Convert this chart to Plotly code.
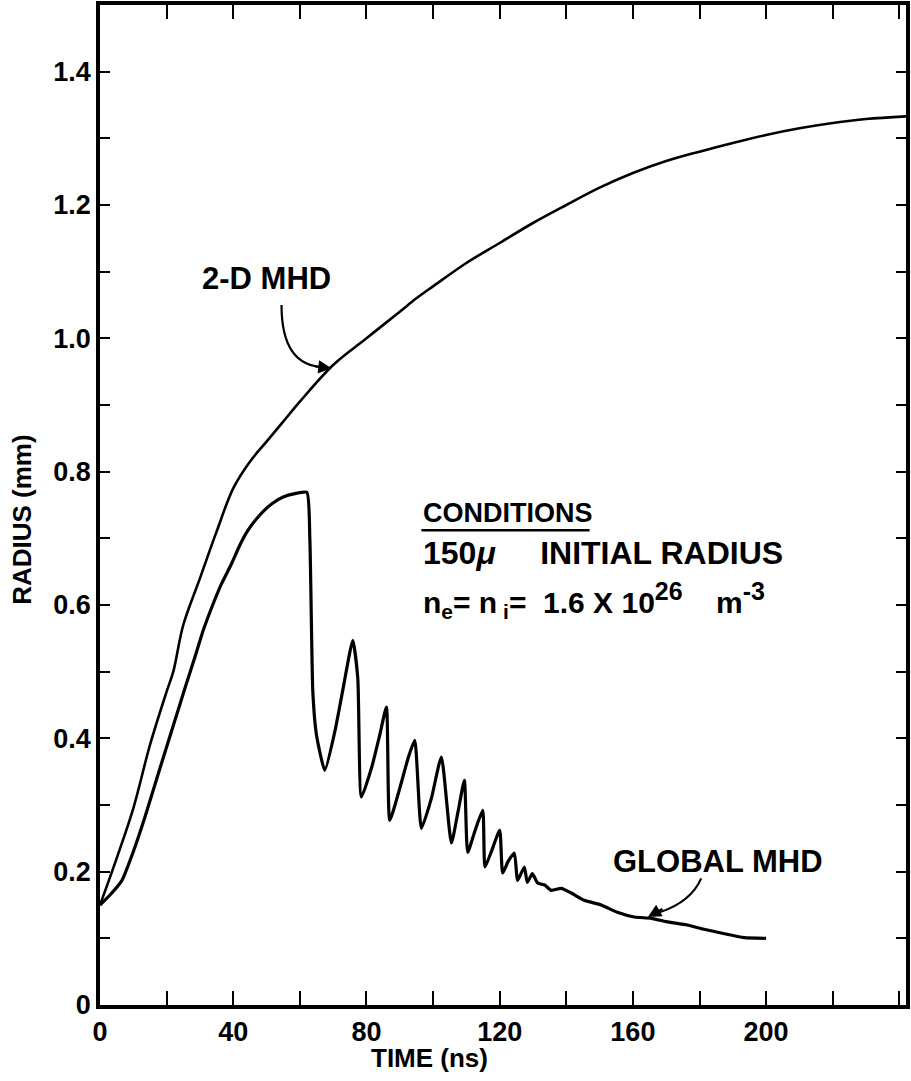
import plotly.graph_objects as go

# 2-D MHD curve
t_2d = [0, 5, 10, 15, 20, 22, 25, 30, 35, 40, 45, 50, 55, 60, 70, 80, 90, 95, 100, 110,
        120, 130, 140, 150, 160, 170, 180, 190, 200, 210, 220, 230, 242]
r_2d = [0.15, 0.22, 0.295, 0.39, 0.47, 0.50, 0.57, 0.64, 0.71, 0.775, 0.815, 0.845,
        0.875, 0.905, 0.96, 1.0, 1.04, 1.06, 1.078, 1.113, 1.143, 1.173, 1.20, 1.226,
        1.248, 1.266, 1.28, 1.293, 1.305, 1.315, 1.323, 1.329, 1.333]

# Global MHD curve
t_gl = [0, 3, 6.6, 10, 13.5, 18, 22.5, 25.5, 28.5, 31, 33.6, 36.5, 39.6, 42, 44.4, 48,
        51.6, 55, 58.5, 62.1, 63, 63.9, 65, 67.5, 70.5, 73, 75.9, 77.4, 78.5, 81.6, 84,
        86, 87, 90, 92.5, 94.5, 96.5, 99.5, 102.5, 105.5, 107.5, 109.4, 110.4, 112.5,
        114.9, 115.6, 117.5, 120, 120.9, 122.5, 124.4, 125.4, 127.4, 128.3, 129.8, 131.4,
        133.5, 135.5, 138.5, 141.5, 145.4, 150.5, 155.3, 160.4, 165.5, 170, 176.3, 181,
        186.5, 193.4, 200]
r_gl = [0.15, 0.165, 0.187, 0.23, 0.282, 0.355, 0.427, 0.475, 0.522, 0.562, 0.597, 0.632,
        0.663, 0.69, 0.712, 0.735, 0.752, 0.762, 0.767, 0.769, 0.70, 0.47, 0.405, 0.352,
        0.41, 0.475, 0.547, 0.49, 0.312, 0.357, 0.405, 0.447, 0.277, 0.325, 0.37, 0.397,
        0.265, 0.31, 0.372, 0.243, 0.29, 0.337, 0.229, 0.26, 0.292, 0.207, 0.23, 0.262,
        0.198, 0.215, 0.228, 0.187, 0.207, 0.184, 0.197, 0.183, 0.18, 0.172, 0.175, 0.168,
        0.157, 0.15, 0.139, 0.132, 0.13, 0.125, 0.12, 0.114, 0.108, 0.101, 0.10]

x_tickvals = list(range(0, 241, 20))
x_ticktext = ["0", "", "40", "", "80", "", "120", "", "160", "", "200", "", ""]
y_tickvals = [round(0.1 * i, 1) for i in range(0, 15)]
y_ticktext = ["0", "", "0.2", "", "0.4", "", "0.6", "", "0.8", "", "1.0", "", "1.2", "", "1.4"]

FONT = "Liberation Sans, Arial, sans-serif"

fig = go.Figure()
fig.add_trace(go.Scatter(x=t_2d, y=r_2d, mode="lines", line=dict(color="black", width=2.6),
                         line_shape="spline", showlegend=False))
fig.add_trace(go.Scatter(x=t_gl, y=r_gl, mode="lines",
                         line=dict(color="black", width=3.2, shape="spline", smoothing=0.5),
                         showlegend=False))

axis_common = dict(showline=True, linecolor="black", linewidth=3.5, mirror="ticks",
                   ticks="inside", tickcolor="black", tickwidth=1.5, showgrid=False,
                   zeroline=False, automargin=False,
                   tickfont=dict(family=FONT, size=27, color="black", weight="bold"))

fig.update_xaxes(range=[0, 242], tickvals=x_tickvals, ticktext=x_ticktext, ticklen=14,
                 **axis_common)
fig.update_yaxes(range=[0, 1.5], tickvals=y_tickvals, ticktext=y_ticktext, ticklen=10,
                 **axis_common)

fig.update_layout(
    width=911, height=1081,
    margin=dict(l=100, r=5, t=5, b=76),
    paper_bgcolor="white", plot_bgcolor="white",
    font=dict(family=FONT, color="black"),
)

def tfont(size):
    return dict(family=FONT, size=size, color="black")

# axis titles
fig.add_annotation(text="<b>TIME (ns)</b>", xref="paper", yref="paper", x=0.409, y=-0.053,
                   xanchor="center", yanchor="middle", showarrow=False, font=tfont(26))
fig.add_annotation(text="<b>RADIUS (mm)</b>", xref="paper", yref="paper", x=-0.097, y=0.485,
                   xanchor="center", yanchor="middle", textangle=-90, showarrow=False,
                   font=tfont(26))

# curve labels
fig.add_annotation(text="<b>2-D MHD</b>", x=50, y=1.09, showarrow=False, font=tfont(31))
fig.add_shape(type="path", xref="x", yref="y",
              path="M 54.5,1.05 Q 54.5,0.957 67.5,0.957",
              line=dict(color="black", width=2.2))
fig.add_annotation(text="", x=69.5, y=0.955, ax=-18, ay=-2, showarrow=True,
                   arrowhead=2, arrowsize=1.2, arrowwidth=2.2, arrowcolor="black")

fig.add_annotation(text="<b>GLOBAL MHD</b>", x=185.5, y=0.216, showarrow=False, font=tfont(31))
fig.add_shape(type="path", xref="x", yref="y",
              path="M 180.5,0.19 Q 177.5,0.155 168,0.139",
              line=dict(color="black", width=2.2))
fig.add_annotation(text="", x=164.5, y=0.132, ax=16, ay=-9, showarrow=True,
                   arrowhead=2, arrowsize=1.2, arrowwidth=2.2, arrowcolor="black")

# conditions block
fig.add_annotation(text="<b>CONDITIONS</b>", x=96.5, y=0.738, xanchor="left", showarrow=False,
                   font=tfont(27))
fig.add_shape(type="line", xref="x", yref="y", x0=96.5, x1=147, y0=0.712, y1=0.712,
              line=dict(color="black", width=2.5))
fig.add_annotation(text="<b>150<i>μ</i>     INITIAL RADIUS</b>", x=96.5, y=0.678,
                   xanchor="left", showarrow=False, font=tfont(32))
fig.add_annotation(
    text="<b>n<sub>e</sub>= n<sub> i</sub>=  1.6 X 10<sup><span style='font-size:25px'>26</span></sup>"
         "    m<sup><span style='font-size:25px'>-3</span></sup></b>",
    x=96.5, y=0.608, xanchor="left", showarrow=False, font=tfont(30))

fig.write_html("out.html", post_script="document.body.style.margin='0px';",
               config={"displayModeBar": False})
